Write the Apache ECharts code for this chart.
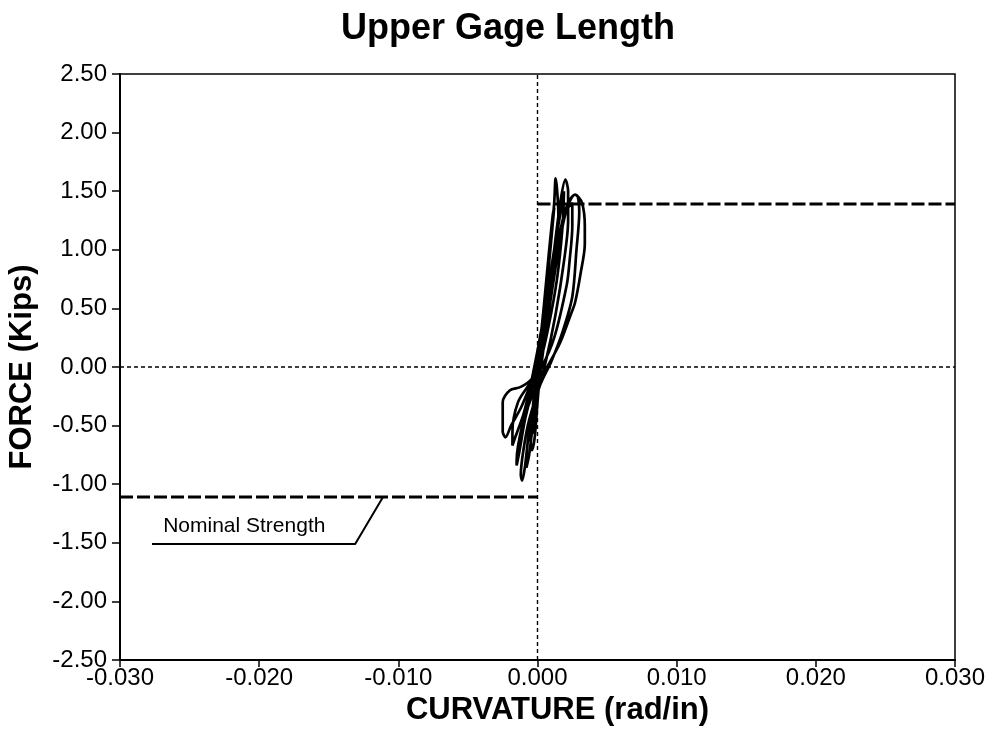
<!DOCTYPE html>
<html>
<head>
<meta charset="utf-8">
<title>Upper Gage Length</title>
<script src="https://cdn.jsdelivr.net/npm/echarts@6/dist/echarts.min.js"></script>
<style>
  html, body { margin: 0; padding: 0; background: #fff; }
  #chart { width: 995px; height: 734px; }
</style>
</head>
<body>
<div id="chart"></div>
<script>
// Axis ranges and tick spacing
const curvatureRange = [-0.030, 0.030];
const curvatureStep = 0.010;
const forceRange = [-2.50, 2.50];
const forceStep = 0.50;

// Nominal strength levels (kips)
const nominalPositive = 1.39;
const nominalNegative = -1.11;
const nominalLabel = 'Nominal Strength';

// Measured hysteresis, one array per load cycle: [curvature (rad/in), force (kips)]
const cycle1 = [
  [0.0000, 0.00], [0.0004, 0.45], [0.0008, 0.95], [0.0011, 1.30], [0.0012, 1.36],
  [0.0010, 1.10], [0.0006, 0.60], [0.0001, 0.05], [-0.0003, -0.30], [-0.0004, -0.50],
  [-0.0003, -0.56], [-0.0001, -0.30], [0.0001, 0.00]
];
const cycle2 = [
  [0.0005, 0.50], [0.0009, 1.00], [0.0012, 1.40], [0.0013, 1.61], [0.0014, 1.52],
  [0.0015, 1.30], [0.0012, 0.90], [0.0007, 0.45], [0.0002, 0.00], [-0.0003, -0.35],
  [-0.0005, -0.60], [-0.0004, -0.71], [-0.0002, -0.60], [0.0000, -0.30]
];
const cycle3 = [
  [0.0003, 0.10], [0.0008, 0.60], [0.0013, 1.10], [0.0017, 1.45], [0.0020, 1.60],
  [0.0022, 1.50], [0.0022, 1.25], [0.0019, 0.90], [0.0013, 0.45], [0.0006, 0.05],
  [-0.0001, -0.25], [-0.0006, -0.55], [-0.0008, -0.80], [-0.0008, -0.86], [-0.0006, -0.75],
  [-0.0003, -0.45]
];
const cycle4 = [
  [0.0002, 0.00], [0.0008, 0.50], [0.0014, 1.00], [0.0019, 1.30], [0.0023, 1.42],
  [0.0027, 1.47], [0.0029, 1.45], [0.0030, 1.32], [0.0028, 1.00], [0.0025, 0.60],
  [0.0018, 0.30], [0.0010, 0.05], [0.0002, -0.15], [-0.0006, -0.45], [-0.0010, -0.70],
  [-0.0012, -0.92], [-0.0011, -0.97], [-0.0009, -0.85], [-0.0006, -0.55]
];
const cycle5 = [
  [0.0000, -0.20], [0.0006, 0.30], [0.0013, 0.85], [0.0018, 1.20], [0.0022, 1.38],
  [0.0027, 1.47], [0.0032, 1.40], [0.0034, 1.20], [0.0034, 1.05], [0.0031, 0.80],
  [0.0027, 0.55], [0.0024, 0.45], [0.0016, 0.20], [0.0006, -0.02], [-0.0004, -0.25],
  [-0.0011, -0.50], [-0.0015, -0.80], [-0.0015, -0.84], [-0.0013, -0.72], [-0.0009, -0.45]
];
const cycle6 = [
  [-0.0004, -0.20], [0.0004, 0.30], [0.0011, 0.85], [0.0017, 1.20], [0.0022, 1.36],
  [0.0025, 1.40], [0.0025, 1.20], [0.0023, 0.90], [0.0021, 0.70], [0.0012, 0.25],
  [0.0003, 0.00], [-0.0006, -0.15], [-0.0014, -0.30], [-0.0018, -0.55], [-0.0018, -0.67],
  [-0.0016, -0.60], [-0.0010, -0.40]
];
const cycle7 = [
  [-0.0004, -0.10], [0.0004, 0.40], [0.0012, 1.00], [0.0017, 1.35], [0.0019, 1.50],
  [0.0018, 1.20], [0.0014, 0.75], [0.0008, 0.35], [0.0002, 0.05], [-0.0004, -0.10],
  [-0.0012, -0.17], [-0.0020, -0.20], [-0.0025, -0.30], [-0.0025, -0.55], [-0.0023, -0.60],
  [-0.0019, -0.50], [-0.0012, -0.35], [-0.0005, -0.15], [0.0000, 0.00]
];
const cycles = [cycle1, cycle2, cycle3, cycle4, cycle5, cycle6, cycle7];

// Leader from the label up to the negative nominal line
const leaderPath = [[-0.0277, -1.51], [-0.0131, -1.51], [-0.0111, -1.11]];
const labelAnchor = [-0.0269, -1.36];

const FONT = "'Liberation Sans', Arial, Helvetica, sans-serif";
const hysteresis = [].concat(...cycles);

const chart = echarts.init(document.getElementById('chart'), null, { renderer: 'canvas' });

const fmt = (v, d) => (Math.abs(v) < 1e-9 ? 0 : v).toFixed(d);

chart.setOption({
  backgroundColor: '#ffffff',
  animation: false,
  title: {
    text: 'Upper Gage Length',
    left: 503,
    textAlign: 'center',
    top: 6,
    textStyle: { fontFamily: FONT, fontSize: 36, fontWeight: 'bold', color: '#000' }
  },
  grid: {
    left: 120, right: 40, top: 74, bottom: 74,
    show: true, borderColor: '#000', borderWidth: 1.5,
    containLabel: false, outerBoundsMode: 'none'
  },
  xAxis: {
    type: 'value',
    min: curvatureRange[0], max: curvatureRange[1], interval: curvatureStep,
    name: 'CURVATURE (rad/in)',
    nameLocation: 'middle',
    nameGap: 35,
    nameTextStyle: { fontFamily: FONT, fontSize: 31, fontWeight: 'bold', color: '#000', padding: [0, 0, 0, 40] },
    axisLine: { show: true, onZero: false, lineStyle: { color: '#000', width: 2 } },
    axisTick: { show: true, inside: false, length: 7, lineStyle: { color: '#000', width: 1.5 } },
    axisLabel: { fontFamily: FONT, fontSize: 24, color: '#000', margin: 6, formatter: v => fmt(v, 3) },
    splitLine: { show: false }
  },
  yAxis: {
    type: 'value',
    min: forceRange[0], max: forceRange[1], interval: forceStep,
    name: 'FORCE (Kips)',
    nameLocation: 'middle',
    nameGap: 82,
    nameRotate: 90,
    nameTextStyle: { fontFamily: FONT, fontSize: 31, fontWeight: 'bold', color: '#000' },
    axisLine: { show: true, onZero: false, lineStyle: { color: '#000', width: 2 } },
    axisTick: { show: true, inside: false, length: 8, lineStyle: { color: '#000', width: 1.5 } },
    axisLabel: { fontFamily: FONT, fontSize: 24, color: '#000', margin: 13, formatter: v => fmt(v, 2) },
    splitLine: { show: false }
  },
  series: [
    {
      // zero curvature reference
      type: 'line', silent: true, symbol: 'none',
      data: [[0, forceRange[0]], [0, forceRange[1]]],
      lineStyle: { color: '#000', width: 1.4, type: [4, 3] }
    },
    {
      // zero force reference
      type: 'line', silent: true, symbol: 'none',
      data: [[curvatureRange[0], 0], [curvatureRange[1], 0]],
      lineStyle: { color: '#000', width: 1.4, type: [4, 3] }
    },
    {
      type: 'line', silent: true, symbol: 'none',
      data: [[0, nominalPositive], [curvatureRange[1], nominalPositive]],
      lineStyle: { color: '#000', width: 3, type: [13, 4] }
    },
    {
      type: 'line', silent: true, symbol: 'none',
      data: [[curvatureRange[0], nominalNegative], [0, nominalNegative]],
      lineStyle: { color: '#000', width: 3, type: [13, 4] }
    },
    {
      type: 'line', silent: true, symbol: 'none',
      data: leaderPath,
      lineStyle: { color: '#000', width: 2 }
    },
    {
      type: 'scatter', silent: true, symbolSize: 0,
      data: [labelAnchor],
      label: {
        show: true, position: 'right', distance: 0,
        formatter: nominalLabel,
        fontFamily: FONT, fontSize: 21, color: '#000', opacity: 1
      }
    },
    {
      name: 'Hysteresis',
      type: 'line', silent: true, symbol: 'none',
      smooth: 0.3,
      data: hysteresis,
      lineStyle: { color: '#000', width: 2.7 }
    }
  ]
});
</script>
</body>
</html>
